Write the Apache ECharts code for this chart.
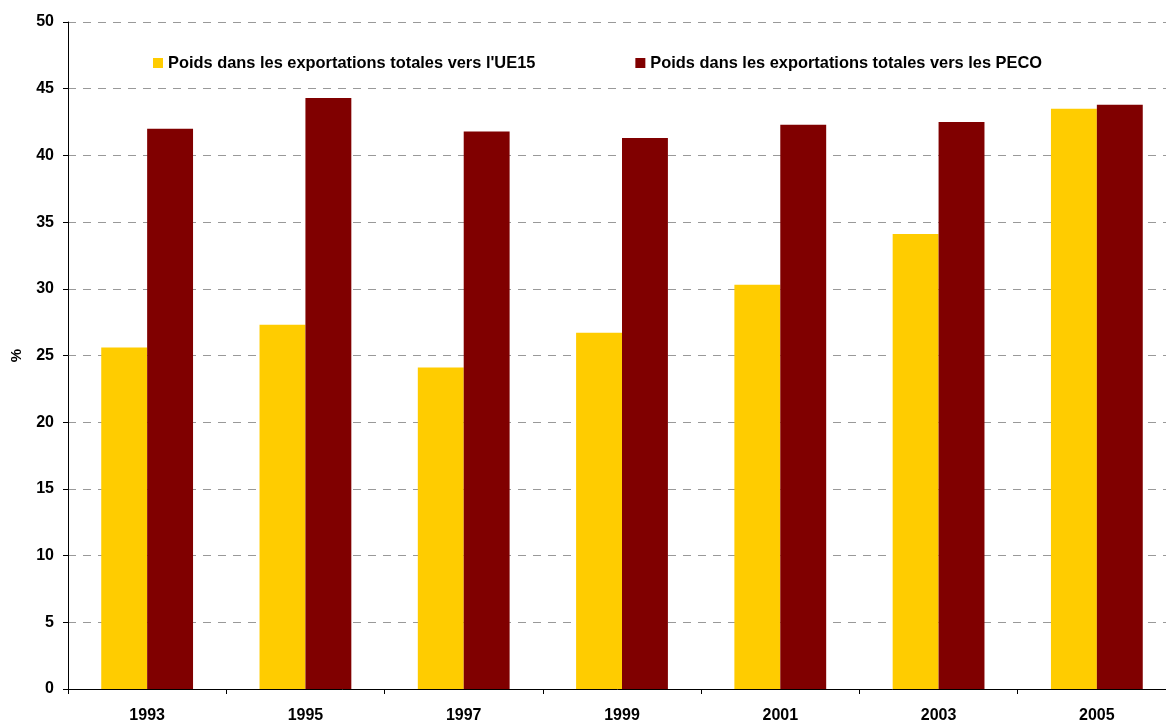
<!DOCTYPE html>
<html>
<head>
<meta charset="utf-8">
<script src="https://cdn.jsdelivr.net/npm/echarts@6/dist/echarts.min.js"></script>
<style>
  html, body { margin: 0; padding: 0; background: #fff; }
  #chart { width: 1166px; height: 722px; }
</style>
</head>
<body>
<div id="chart"></div>
<script>
var years = ["1993", "1995", "1997", "1999", "2001", "2003", "2005"];
var ue15 = [25.6, 27.3, 24.1, 26.7, 30.3, 34.1, 43.5];
var peco = [42.0, 44.3, 41.8, 41.3, 42.3, 42.5, 43.8];
var seriesNames = [
  "Poids dans les exportations totales vers l'UE15",
  "Poids dans les exportations totales vers les PECO"
];

var myChart = echarts.init(document.getElementById("chart"));
var font = "Liberation Sans, Arial, sans-serif";

var option = {
  animation: false,
  textStyle: { fontFamily: font },
  legend: {
    top: 50,
    left: 148,
    itemWidth: 10,
    itemHeight: 10,
    itemGap: 100,
    icon: "rect",
    textStyle: { fontFamily: font, fontSize: 16.4, fontWeight: "bold", color: "#000" },
    data: seriesNames
  },
  grid: { left: 68, width: 1108, top: 22, height: 667, containLabel: false, outerBoundsMode: "none" },
  xAxis: {
    type: "category",
    data: years,
    axisLine: { lineStyle: { color: "#000", width: 1 } },
    axisTick: { show: true, length: 5, lineStyle: { color: "#000" } },
    axisLabel: { fontFamily: font, fontSize: 16, fontWeight: "bold", color: "#000", margin: 19 }
  },
  yAxis: {
    type: "value",
    min: 0,
    max: 50,
    interval: 5,
    name: "%",
    nameLocation: "middle",
    nameGap: 44,
    nameRotate: 90,
    nameTextStyle: { fontFamily: font, fontSize: 15, fontWeight: "bold", color: "#000" },
    axisLine: { show: true, lineStyle: { color: "#000", width: 1 } },
    axisTick: { show: true, length: 5, lineStyle: { color: "#000" } },
    axisLabel: { fontFamily: font, fontSize: 16, fontWeight: "bold", color: "#000", margin: 14 },
    splitLine: { show: true, lineStyle: { color: "#999", type: [8, 7], width: 1 } }
  },
  series: [
    {
      name: seriesNames[0],
      type: "bar",
      data: ue15,
      barGap: "0%",
      barCategoryGap: "42%",
      itemStyle: { color: "#FFCC00" }
    },
    {
      name: seriesNames[1],
      type: "bar",
      data: peco,
      barGap: "0%",
      barCategoryGap: "42%",
      itemStyle: { color: "#800000" }
    }
  ]
};

myChart.setOption(option);
</script>
</body>
</html>
